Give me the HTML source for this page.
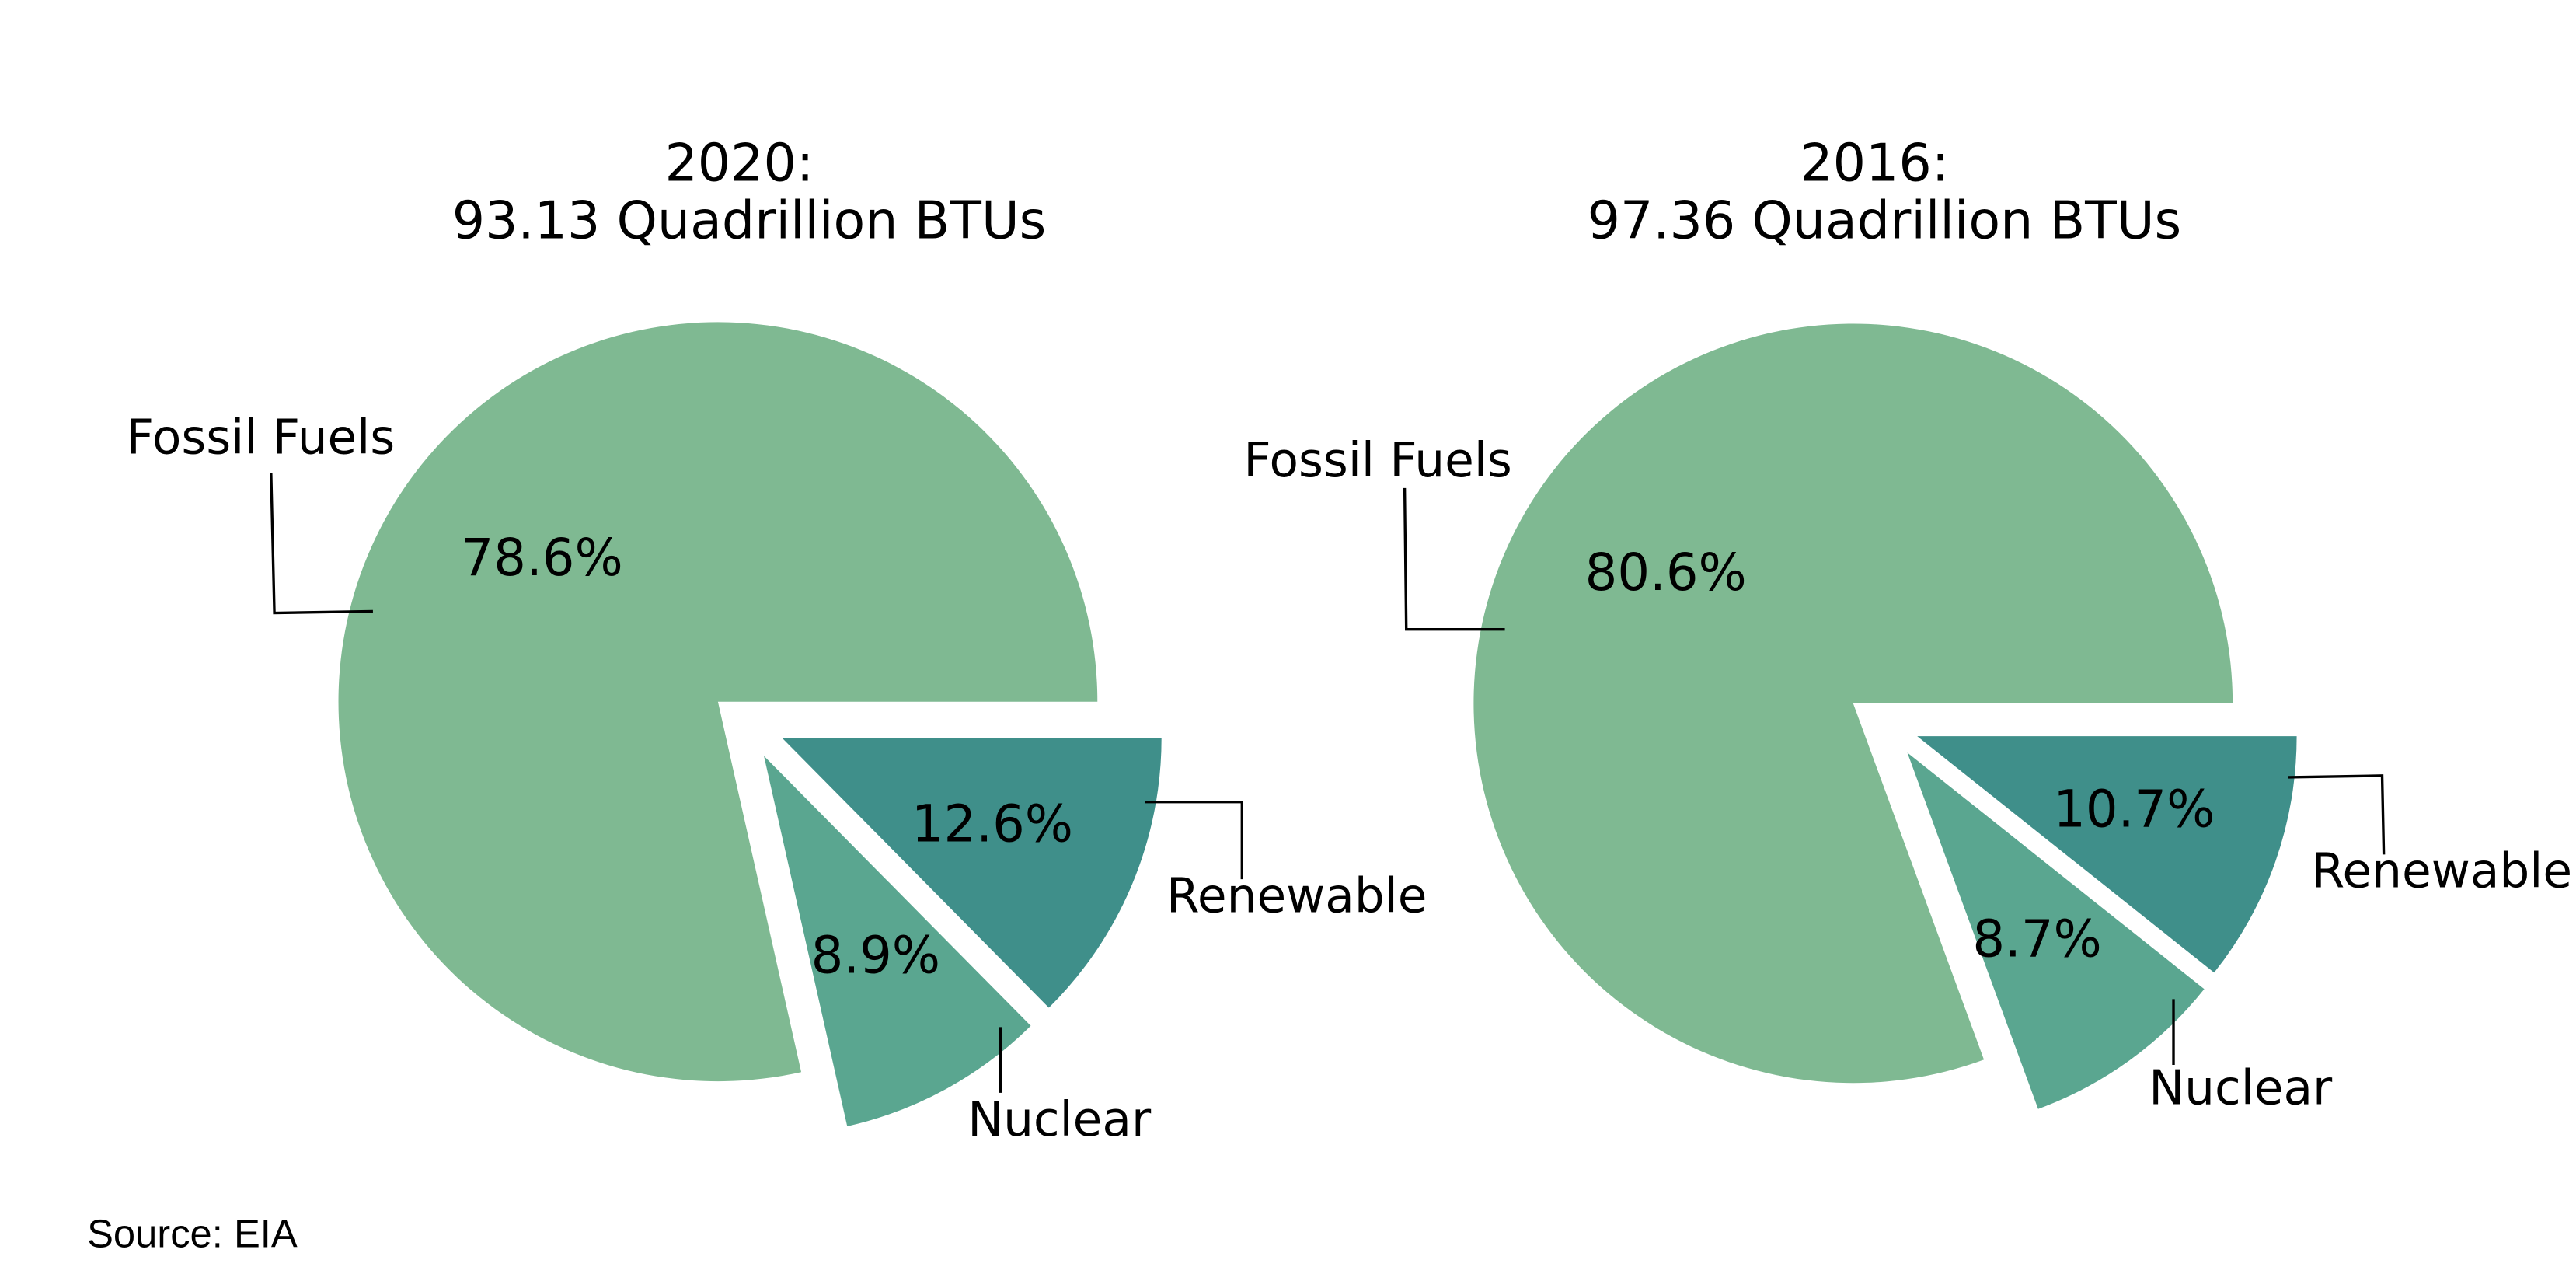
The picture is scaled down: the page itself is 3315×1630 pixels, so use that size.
<!DOCTYPE html>
<html><head><meta charset="utf-8"><style>
html,body{margin:0;padding:0;background:#fff}
svg{display:block}
text{font-family:"DejaVu Sans","Liberation Sans",sans-serif;fill:#000}
</style></head><body>
<svg id="chart" width="3315" height="1630" viewBox="0 0 1568 771" xmlns="http://www.w3.org/2000/svg">
<rect width="1568" height="771" fill="#fff"/>
<text x="450" y="110" font-size="31.5" text-anchor="middle">2020:</text>
<text x="456" y="145" font-size="31.5" text-anchor="middle">93.13 Quadrillion BTUs</text>
<text x="1141" y="110" font-size="31.5" text-anchor="middle">2016:</text>
<text x="1147" y="145" font-size="31.5" text-anchor="middle">97.36 Quadrillion BTUs</text>
<g id="pies"></g>
<g fill="none" stroke="#000" stroke-width="1.6">
<polyline points="165,288 167,373 227,372"/>
<polyline points="697,488 756,488 756,535"/>
<polyline points="609,625 609,665"/>
<polyline points="855,297 856,383 916,383"/>
<polyline points="1393,473 1450,472 1451,520"/>
<polyline points="1323,608 1323,648"/>
</g>
<text x="77" y="276" font-size="29">Fossil Fuels</text>
<text x="710" y="555" font-size="29">Renewable</text>
<text x="589" y="691" font-size="29">Nuclear</text>
<text x="757" y="290" font-size="29">Fossil Fuels</text>
<text x="1407" y="540" font-size="29">Renewable</text>
<text x="1308" y="672" font-size="29">Nuclear</text>
<text x="53" y="759" font-size="24" style="font-family:'Liberation Sans',sans-serif">Source: EIA</text>
</svg>
<script>
const categories = ["Fossil Fuels","Nuclear","Renewable"];
const values2020 = [78.6, 8.9, 12.6];
const values2016 = [80.6, 8.7, 10.7];
const colors = ["#7fb992","#5aa690","#3f8f8a"];
const pies = [
  {name:"2020", vals:values2020, cx:437, cy:427, r:231, off:[[0,0],[28,33],[39,22]], pct:[[330,350],[533,592],[604,512]]},
  {name:"2016", vals:values2016, cx:1128, cy:428, r:231, off:[[0,0],[33,30],[39,20]], pct:[[1014,359],[1240,582],[1299,503]]}
];
const g = document.getElementById('pies');
const NS = "http://www.w3.org/2000/svg";
pies.forEach(p=>{
  const tot = p.vals.reduce((a,b)=>a+b,0);
  let a0 = 0;
  p.vals.forEach((v,i)=>{
    const a1 = a0 + v/tot*360;
    const ox = p.cx + p.off[i][0];
    const oy = p.cy + p.off[i][1];
    const r0 = a0*Math.PI/180, r1 = a1*Math.PI/180;
    const x0 = ox + p.r*Math.cos(r0), y0 = oy - p.r*Math.sin(r0);
    const x1 = ox + p.r*Math.cos(r1), y1 = oy - p.r*Math.sin(r1);
    const large = (a1-a0) > 180 ? 1 : 0;
    const path = document.createElementNS(NS,'path');
    path.setAttribute('d', `M${ox},${oy} L${x0},${y0} A${p.r},${p.r} 0 ${large} 0 ${x1},${y1} Z`);
    path.setAttribute('fill', colors[i]);
    
    
    g.appendChild(path);
    const t = document.createElementNS(NS,'text');
    t.setAttribute('x', p.pct[i][0]);
    t.setAttribute('y', p.pct[i][1]);
    t.setAttribute('font-size', '31');
    t.setAttribute('text-anchor', 'middle');
    t.textContent = v.toFixed(1) + '%';
    
    
    g.appendChild(t);
    a0 = a1;
  });
});
</script>
</body></html>
